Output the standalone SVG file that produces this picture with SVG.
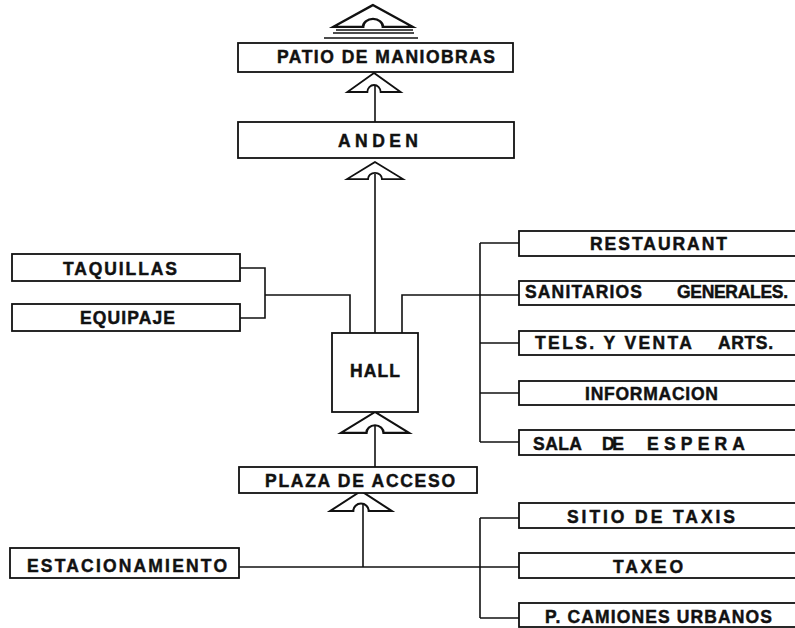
<svg xmlns="http://www.w3.org/2000/svg" xmlns:xlink="http://www.w3.org/1999/xlink" width="795" height="628" viewBox="0 0 795 628">
  <style>
    .box { fill: #fff; stroke: #111; stroke-width: 1.8; }
    .lbl { font-family: "Liberation Sans", Arial, sans-serif; font-weight: bold; font-size: 17.5px; fill: #111; stroke: #111; stroke-width: 0.45; }
    .wire { fill: none; stroke: #111; stroke-width: 1.6; }
    .head { fill: #fff; stroke: #111; stroke-width: 1.9; stroke-linejoin: miter; }
  </style>
  <defs>
    <!-- open chevron arrowhead with a small arch where the shaft enters; apex at 0,0 -->
    <path id="chev" d="M0,0 L-28,19 L-7,19 A7,7 0 0 1 7,19 L28,19 Z"/>
  </defs>
  <rect width="795" height="628" fill="#fff"/>

  <g id="connectors">
    <!-- main vertical spine -->
    <line class="wire" x1="375" y1="86" x2="375" y2="122"/>
    <line class="wire" x1="375" y1="174" x2="375" y2="333"/>
    <line class="wire" x1="375" y1="426" x2="375" y2="467"/>
    <line class="wire" x1="363" y1="503" x2="363" y2="567"/>
    <!-- taquillas / equipaje to hall -->
    <polyline class="wire" points="240,268 265,268 265,318 240,318"/>
    <polyline class="wire" points="265,295 350,295 350,333"/>
    <!-- hall to services -->
    <polyline class="wire" points="402,333 402,295 519,295"/>
    <line class="wire" x1="480" y1="243" x2="480" y2="442"/>
    <line class="wire" x1="480" y1="243" x2="519" y2="243"/>
    <line class="wire" x1="480" y1="343" x2="519" y2="343"/>
    <line class="wire" x1="480" y1="393" x2="519" y2="393"/>
    <line class="wire" x1="480" y1="442" x2="519" y2="442"/>
    <!-- parking to transport -->
    <line class="wire" x1="239" y1="567" x2="519" y2="567"/>
    <line class="wire" x1="480" y1="518" x2="480" y2="618"/>
    <line class="wire" x1="480" y1="518" x2="519" y2="518"/>
    <line class="wire" x1="480" y1="618" x2="519" y2="618"/>
    <!-- arrowheads -->
    <use xlink:href="#chev" class="head" transform="translate(374,73) scale(0.95,1)"/>
    <use xlink:href="#chev" class="head" transform="translate(375,162) scale(1.0,0.9)"/>
    <use xlink:href="#chev" class="head" transform="translate(375,412) scale(1.22,1.1)"/>
    <use xlink:href="#chev" class="head" transform="translate(361,491) scale(1.1,1.05)"/>
  </g>

  <g id="roof">
    <use xlink:href="#chev" class="head" transform="translate(373,5) scale(1.42,1.15)"/>
    <line class="wire" x1="336" y1="30" x2="413" y2="30"/>
    <line class="wire" x1="333" y1="33" x2="414" y2="33"/>
    <line class="wire" x1="324" y1="38" x2="418" y2="38" stroke-width="1"/>
  </g>

  <g id="patio">
    <rect class="box" x="238" y="43" width="275" height="29"/>
    <text class="lbl" x="277" y="63" textLength="218" lengthAdjust="spacing">PATIO DE MANIOBRAS</text>
  </g>
  <g id="anden">
    <rect class="box" x="238" y="122" width="276" height="36"/>
    <text class="lbl" x="338" y="147" textLength="80" lengthAdjust="spacing">ANDEN</text>
  </g>
  <g id="taquillas">
    <rect class="box" x="12" y="254" width="228" height="27"/>
    <text class="lbl" x="63" y="275" textLength="114" lengthAdjust="spacing">TAQUILLAS</text>
  </g>
  <g id="equipaje">
    <rect class="box" x="12" y="304" width="228" height="27"/>
    <text class="lbl" x="80" y="324" textLength="95" lengthAdjust="spacing">EQUIPAJE</text>
  </g>
  <g id="hall">
    <rect class="box" x="332" y="333" width="86" height="79"/>
    <text class="lbl" x="350" y="377" textLength="50" lengthAdjust="spacing">HALL</text>
  </g>
  <g id="restaurant">
    <rect class="box" x="519" y="231" width="290" height="25"/>
    <text class="lbl" x="590" y="250" textLength="137" lengthAdjust="spacing">RESTAURANT</text>
  </g>
  <g id="sanitarios">
    <rect class="box" x="519" y="281" width="290" height="24"/>
    <text class="lbl" x="525" y="298" textLength="117" lengthAdjust="spacing">SANITARIOS</text>
    <text class="lbl" x="677" y="298" textLength="111" lengthAdjust="spacing">GENERALES.</text>
  </g>
  <g id="tels">
    <rect class="box" x="519" y="331" width="290" height="24"/>
    <text class="lbl" x="535" y="349" textLength="157" lengthAdjust="spacing">TELS. Y VENTA</text>
    <text class="lbl" x="718" y="349" textLength="55" lengthAdjust="spacing">ARTS.</text>
  </g>
  <g id="informacion">
    <rect class="box" x="519" y="381" width="290" height="24"/>
    <text class="lbl" x="585" y="400" textLength="133" lengthAdjust="spacing">INFORMACION</text>
  </g>
  <g id="sala">
    <rect class="box" x="519" y="430" width="290" height="25"/>
    <text class="lbl" x="533" y="450" textLength="49" lengthAdjust="spacing">SALA</text>
    <text class="lbl" x="602" y="450" textLength="22" lengthAdjust="spacing">DE</text>
    <text class="lbl" x="647" y="450" textLength="98" lengthAdjust="spacing">ESPERA</text>
  </g>
  <g id="plaza">
    <rect class="box" x="239" y="467" width="238" height="26"/>
    <text class="lbl" x="265" y="487" textLength="190" lengthAdjust="spacing">PLAZA DE ACCESO</text>
  </g>
  <g id="estacionamiento">
    <rect class="box" x="10" y="548" width="229" height="30"/>
    <text class="lbl" x="27" y="572" textLength="200" lengthAdjust="spacing">ESTACIONAMIENTO</text>
  </g>
  <g id="sitio">
    <rect class="box" x="519" y="503" width="290" height="25"/>
    <text class="lbl" x="567" y="523" textLength="168" lengthAdjust="spacing">SITIO DE TAXIS</text>
  </g>
  <g id="taxeo">
    <rect class="box" x="519" y="553" width="290" height="25"/>
    <text class="lbl" x="613" y="573" textLength="70" lengthAdjust="spacing">TAXEO</text>
  </g>
  <g id="camiones">
    <rect class="box" x="519" y="603" width="290" height="24"/>
    <text class="lbl" x="545" y="623" textLength="227" lengthAdjust="spacing">P. CAMIONES URBANOS</text>
  </g>
</svg>
